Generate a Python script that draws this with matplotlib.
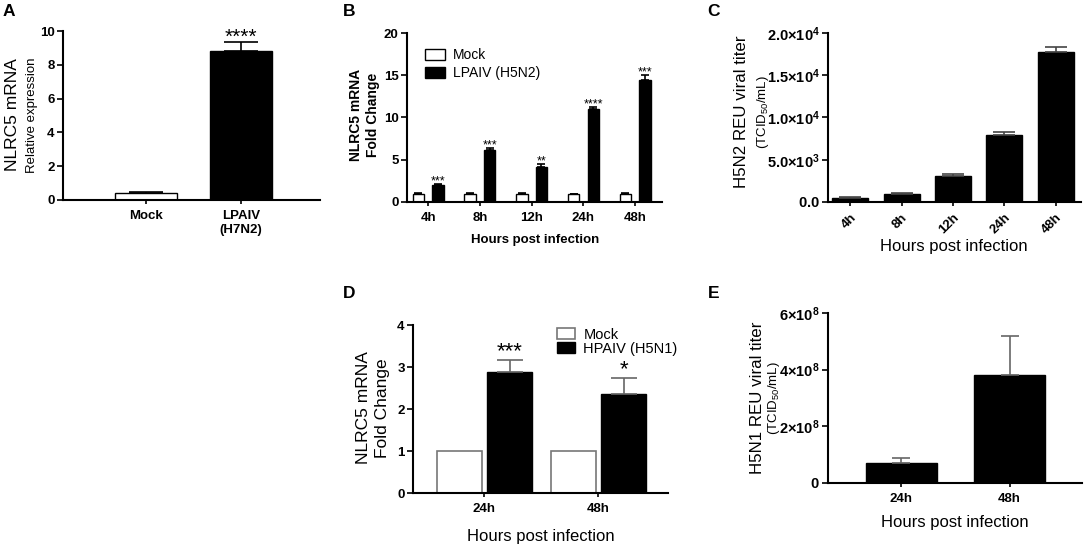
import numpy as np
import matplotlib.pyplot as plt

plt.rcParams['font.family'] = ['Liberation Sans', 'DejaVu Sans']
plt.rcParams['mathtext.fontset'] = 'custom'
plt.rcParams['mathtext.rm'] = 'Liberation Sans'
plt.rcParams['mathtext.bf'] = 'Liberation Sans:bold'
plt.rcParams['mathtext.it'] = 'Liberation Sans:italic'

# panel A
a_groups = ['Mock', 'LPAIV\n(H7N2)']
a_vals = [0.39, 8.82]
a_err = [0.06, 0.53]
a_stars = ['', '****']
a_yticks = [0, 2, 4, 6, 8, 10]

# panel B
hours5 = ['4h', '8h', '12h', '24h', '48h']
b_mock = [0.95, 0.95, 0.95, 0.95, 0.95]
b_mock_err = [0.1, 0.06, 0.1, 0.05, 0.1]
b_lpaiv = [2.0, 6.2, 4.1, 11.05, 14.45]
b_lpaiv_err = [0.1, 0.2, 0.45, 0.25, 0.55]
b_stars = ['***', '***', '**', '****', '***']
b_yticks = [0, 5, 10, 15, 20]

# panel C
c_titer = [500, 990, 3090, 7920, 17740]
c_err = [130, 120, 280, 320, 640]
c_yticks = [0, 5000, 10000, 15000, 20000]
c_yticklabels = [r'$\mathbf{0.0}$', r'$\mathbf{5.0{\times}10^{3}}$', r'$\mathbf{1.0{\times}10^{4}}$',
                 r'$\mathbf{1.5{\times}10^{4}}$', r'$\mathbf{2.0{\times}10^{4}}$']

# panel D
hours2 = ['24h', '48h']
d_mock = [1.0, 1.0]
d_hpaiv = [2.87, 2.35]
d_hpaiv_err = [0.3, 0.38]
d_stars = ['***', '*']
d_yticks = [0, 1, 2, 3, 4]

# panel E
e_titer = [0.71e8, 3.8e8]
e_err = [0.17e8, 1.38e8]
e_yticks = [0, 2e8, 4e8, 6e8]
e_yticklabels = [r'$\mathbf{0}$', r'$\mathbf{2{\times}10^{8}}$', r'$\mathbf{4{\times}10^{8}}$',
                 r'$\mathbf{6{\times}10^{8}}$']

W, H = 1084, 548
fig = plt.figure(figsize=(W / 100, H / 100), dpi=100)


def place(left, top, right, bottom):
    return fig.add_axes([left / W, 1 - bottom / H, (right - left) / W, (bottom - top) / H])


def ftext(x, y, s, **kw):
    kw.setdefault('ha', 'center')
    kw.setdefault('va', 'center')
    fig.text(x / W, 1 - y / H, s, **kw)


def style(ax):
    for s in ['top', 'right']:
        ax.spines[s].set_visible(False)
    for s in ['left', 'bottom']:
        ax.spines[s].set_linewidth(1.5)
    ax.tick_params(direction='out', length=4, width=1.2, labelsize=9.5, pad=2)
    ax.tick_params(axis='x', length=3, pad=4)


def upper_err(ax, x, y, e, color, cap):
    ax.errorbar(x, y, yerr=[np.zeros(len(e)), e], fmt='none', ecolor=color,
                elinewidth=1.2, capsize=cap, capthick=1.2, zorder=3)


# ---------------- A
ax = place(63, 31, 320, 200)
style(ax)
xa = np.arange(len(a_groups))
ax.bar(xa, a_vals, width=0.66, color=['white', 'black'], edgecolor='black', lw=1)
upper_err(ax, xa, a_vals, a_err, 'black', 12)
ax.set_xlim(-0.874, 1.83)
ax.set_ylim(0, 10)
ax.set_xticks(xa, a_groups, fontweight='bold', fontsize=9.5)
ax.set_yticks(a_yticks, [str(t) for t in a_yticks], fontweight='bold')
for i, s in enumerate(a_stars):
    ax.text(xa[i], a_vals[i] + a_err[i] + 0.25, s, ha='center', va='center', fontsize=15, clip_on=False)

# ---------------- B
ax = place(407, 33, 662, 202)
style(ax)
xb = np.arange(len(hours5))
ax.bar(xb - 0.19, b_mock, width=0.22, color='white', edgecolor='black', lw=1, label='Mock')
ax.bar(xb + 0.19, b_lpaiv, width=0.22, color='black', edgecolor='black', lw=1, label='LPAIV (H5N2)')
upper_err(ax, xb - 0.19, b_mock, b_mock_err, 'black', 3)
upper_err(ax, xb + 0.19, b_lpaiv, b_lpaiv_err, 'black', 3)
ax.set_xlim(-0.41, 4.52)
ax.set_ylim(0, 20)
ax.set_xticks(xb, hours5, fontweight='bold')
ax.set_yticks(b_yticks, [str(t) for t in b_yticks], fontweight='bold')
for i, s in enumerate(b_stars):
    ax.text(xb[i] + 0.19, b_lpaiv[i] + b_lpaiv_err[i] + 0.3, s, ha='center', va='center', fontsize=9)
ax.legend(loc='upper left', bbox_to_anchor=(0.07, 0.91), frameon=False, fontsize=10,
          handlelength=1.45, handleheight=0.85, handletextpad=0.6, labelspacing=0.3,
          borderpad=0, borderaxespad=0)

# ---------------- C
ax = place(828, 33, 1081, 202)
style(ax)
xc = np.arange(len(hours5))
ax.bar(xc, c_titer, width=0.7, color='black', edgecolor='black')
upper_err(ax, xc, c_titer, c_err, '#444444', 8)
ax.set_xlim(-0.43, 4.49)
ax.set_ylim(0, 20000)
ax.set_xticks(xc, hours5, fontweight='bold', rotation=45, ha='right', rotation_mode='anchor')
ax.set_yticks(c_yticks, c_yticklabels, fontsize=10.5)

# ---------------- D
ax = place(413, 325, 668, 493)
style(ax)
xd = np.arange(len(hours2))
ax.bar(xd - 0.22, d_mock, width=0.40, color='white', edgecolor='#777777', lw=1.2, label='Mock')
ax.bar(xd + 0.22, d_hpaiv, width=0.40, color='black', edgecolor='black', lw=1, label='HPAIV (H5N1)')
upper_err(ax, xd + 0.22, d_hpaiv, d_hpaiv_err, '#666666', 9.5)
ax.set_xlim(-0.627, 1.61)
ax.set_ylim(0, 4)
ax.set_xticks(xd, hours2, fontweight='bold')
ax.set_yticks(d_yticks, [str(t) for t in d_yticks], fontweight='bold')
for i, s in enumerate(d_stars):
    ax.text(xd[i] + 0.22, d_hpaiv[i] + d_hpaiv_err[i] + 0.2, s, ha='center', va='center', fontsize=16)
ax.legend(loc='upper left', bbox_to_anchor=(0.565, 0.985), frameon=False, fontsize=10.5,
          handlelength=1.2, handleheight=0.7, handletextpad=0.6, labelspacing=0.0,
          borderpad=0, borderaxespad=0)

# ---------------- E
ax = place(828, 313, 1082, 483)
style(ax)
xe = np.arange(len(hours2))
ax.bar(xe, e_titer, width=0.657, color='black', edgecolor='black')
upper_err(ax, xe, e_titer, e_err, '#666666', 6.5)
ax.set_xlim(-0.68, 1.67)
ax.set_ylim(0, 6e8)
ax.set_xticks(xe, hours2, fontweight='bold')
ax.set_yticks(e_yticks, e_yticklabels, fontsize=10.5)

# ---------------- axis titles
ftext(13, 115, 'NLRC5 mRNA', rotation=90, fontsize=12.5)
ftext(32, 115, 'Relative expression', rotation=90, fontsize=9.5)
ftext(356, 115, 'NLRC5 mRNA', rotation=90, fontsize=10, fontweight='bold')
ftext(373, 115, 'Fold Change', rotation=90, fontsize=10, fontweight='bold')
ftext(741, 112, 'H5N2 REU viral titer', rotation=90, fontsize=12.2)
ftext(763, 112, r'(TCID$_{50}$/mL)', rotation=90, fontsize=9.5)
ftext(363, 408, 'NLRC5 mRNA', rotation=90, fontsize=12.5)
ftext(383, 408, 'Fold Change', rotation=90, fontsize=12.5)
ftext(757, 398, 'H5N1 REU viral titer', rotation=90, fontsize=12.2)
ftext(774, 398, r'(TCID$_{50}$/mL)', rotation=90, fontsize=9.5)

ftext(535, 240, 'Hours post infection', fontsize=9.5, fontweight='bold')
ftext(954, 247, 'Hours post infection', fontsize=12)
ftext(541, 537, 'Hours post infection', fontsize=12)
ftext(955, 522, 'Hours post infection', fontsize=12)

for lab, x, y in [('A', 3, 12), ('B', 343, 12), ('C', 707, 12), ('D', 343, 293), ('E', 708, 293)]:
    ftext(x, y, lab, ha='left', fontsize=12.5, fontweight='bold')

fig.savefig('out.png', dpi=100)
